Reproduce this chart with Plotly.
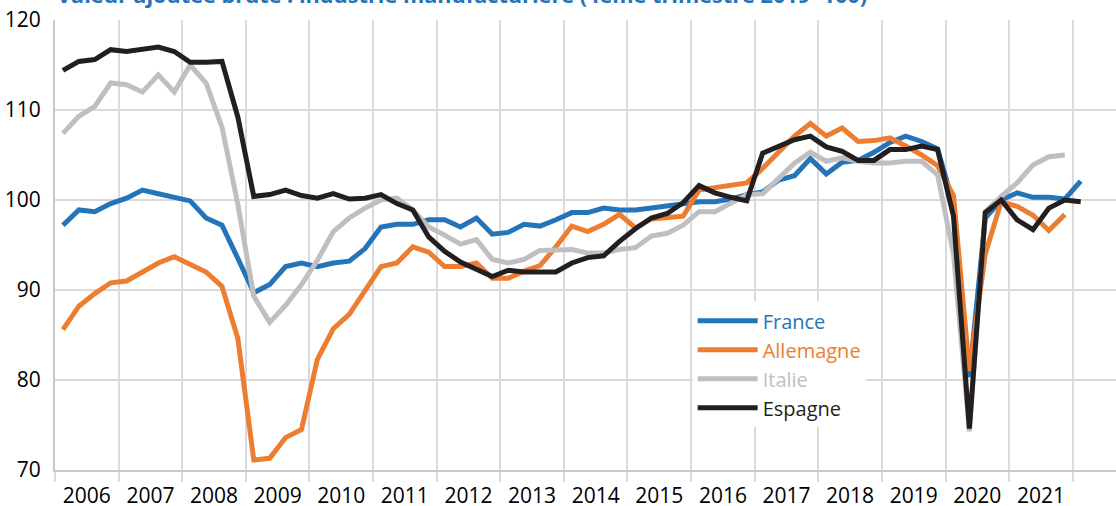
import numpy as np
import plotly.graph_objects as go

# trimestres 2006T1 -> 2022T1, positionnés au milieu de chaque trimestre
trimestres = [f"{2006 + k // 4}T{k % 4 + 1}" for k in range(65)]
x_pos = [2006 + (k + 0.5) / 4 for k in range(65)]

france = [97.2, 98.9, 98.7, 99.6, 100.2, 101.1, 100.7, 100.3, 99.9, 98.0, 97.2, 93.5,
          89.7, 90.6, 92.6, 93.0, 92.6, 93.0, 93.2, 94.6, 97.0, 97.3, 97.3, 97.8,
          97.8, 97.0, 98.0, 96.2, 96.4, 97.3, 97.1, 97.8, 98.6, 98.6, 99.1, 98.9,
          98.9, 99.1, 99.3, 99.6, 99.8, 99.8, 100.1, 100.6, 100.9, 102.2, 102.7, 104.6,
          102.9, 104.2, 104.4, 105.3, 106.4, 107.1, 106.5, 105.7, 99.5, 80.3, 98.0, 100.0,
          100.8, 100.3, 100.3, 100.1, 102.1]
allemagne = [85.6, 88.2, 89.6, 90.8, 91.0, 92.0, 93.0, 93.7, 92.9, 92.0, 90.4, 84.6,
             71.1, 71.3, 73.6, 74.5, 82.3, 85.7, 87.3, 90.0, 92.6, 93.0, 94.8, 94.2,
             92.6, 92.6, 93.0, 91.3, 91.3, 92.1, 92.7, 94.8, 97.1, 96.5, 97.3, 98.4,
             96.9, 97.9, 98.0, 98.2, 101.1, 101.4, 101.7, 101.9, 103.5, 105.3, 107.1, 108.5,
             107.1, 108.0, 106.5, 106.6, 106.9, 106.0, 105.0, 103.8, 100.5, 81.0, 94.0, 99.8,
             99.3, 98.3, 96.6, 98.4]
italie = [107.4, 109.3, 110.4, 113.0, 112.8, 112.0, 113.9, 112.0, 115.0, 113.0, 108.1, 99.5,
          89.3, 86.4, 88.3, 90.6, 93.3, 96.5, 98.0, 99.1, 100.0, 100.2, 98.9, 97.0,
          96.1, 95.1, 95.6, 93.4, 93.0, 93.4, 94.4, 94.4, 94.5, 94.1, 94.1, 94.5,
          94.7, 96.0, 96.3, 97.2, 98.7, 98.7, 99.7, 100.6, 100.7, 102.4, 104.1, 105.3,
          104.3, 104.7, 104.3, 104.1, 104.1, 104.3, 104.3, 102.8, 94.0, 74.3, 98.7, 100.4,
          101.9, 103.9, 104.8, 105.0]
espagne = [114.4, 115.4, 115.6, 116.7, 116.5, 116.7, 117.0, 116.5, 115.3, 115.3, 115.4, 109.2,
           100.4, 100.6, 101.1, 100.5, 100.2, 100.7, 100.1, 100.2, 100.6, 99.6, 98.9, 95.9,
           94.3, 93.1, 92.3, 91.5, 92.2, 92.0, 92.0, 92.0, 93.0, 93.6, 93.8, 95.4,
           96.8, 98.0, 98.5, 99.7, 101.6, 100.8, 100.3, 99.9, 105.2, 105.9, 106.7, 107.1,
           105.9, 105.4, 104.4, 104.4, 105.6, 105.6, 106.0, 105.6, 98.2, 74.6, 98.6, 100.0,
           97.8, 96.7, 99.1, 100.0, 99.8]

annees = list(range(2006, 2022))
series = [("France", france, "#2474BA"),
          ("Allemagne", allemagne, "#ED7D31"),
          ("Italie", italie, "#BFBFC2"),
          ("Espagne", espagne, "#231F20")]

police = "Open Sans"
fig = go.Figure()
for nom, vals, coul in series:
    fig.add_trace(go.Scatter(
        x=x_pos[:len(vals)], y=vals, mode="lines",
        name=f"<span style='color:{coul}'>{nom}</span>",
        line=dict(color=coul, width=5), hovertext=trimestres[:len(vals)]))

fig.update_layout(
    width=1116, height=506,
    margin=dict(l=55, r=0, t=20, b=36),
    paper_bgcolor="white", plot_bgcolor="white",
    font=dict(family=police, size=21, color="black"),
    showlegend=True,
    legend=dict(x=0.601, y=0.375, xanchor="left", yanchor="top",
                bgcolor="white", font=dict(size=20), itemwidth=60,
                tracegroupgap=0, borderwidth=0),
    annotations=[dict(
        text="<b>Valeur ajoutée brute : industrie manufacturière (4ème trimestre 2019=100)</b>",
        xref="paper", yref="paper", x=0, y=1.0, yshift=9, xanchor="left", yanchor="bottom",
        showarrow=False, font=dict(family=police, size=21.7, color="#2474BA"))],
)

fig.update_xaxes(
    range=[2006, 2022.68], automargin=False,
    tickmode="array", tickvals=[a + 0.5 for a in annees], ticktext=[str(a) for a in annees],
    ticks="", showgrid=False, ticklabelstandoff=6,
    showline=True, linecolor="#C8C8CC", linewidth=2,
    minor=dict(tickmode="array", tickvals=list(range(2006, 2023)), showgrid=True,
               gridcolor="#DADADD", gridwidth=2, ticks="outside", ticklen=10,
               tickcolor="#DADADD", tickwidth=2),
    zeroline=False,
)
fig.update_yaxes(
    range=[70, 120], tickvals=[70, 80, 90, 100, 110, 120], automargin=False,
    showgrid=True, gridcolor="#DADADD", gridwidth=2,
    showline=True, linecolor="#C8C8CC", linewidth=2,
    ticks="", ticklabelstandoff=8, zeroline=False,
)

# pas de marge autour du graphique dans la page, pas de barre d'outils
fig.write_html("out.html", config={"displayModeBar": False},
               post_script="document.body.style.margin='0';")
